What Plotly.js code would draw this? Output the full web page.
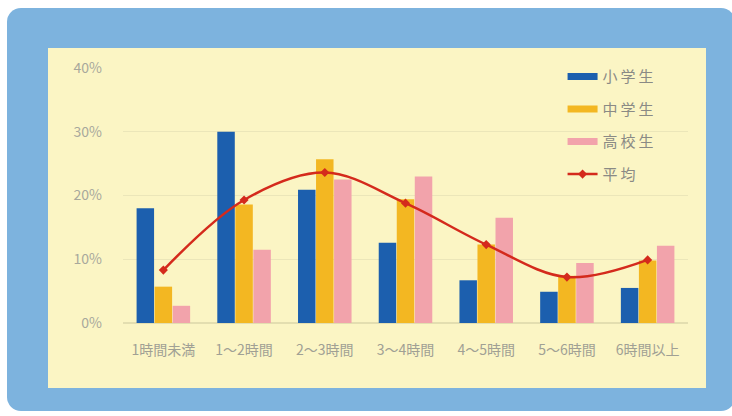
<!DOCTYPE html>
<html><head><meta charset="utf-8">
<script src="https://cdn.plot.ly/plotly-3.0.1.min.js"></script>
<style>
html,body{margin:0;padding:0;background:#ffffff;width:732px;height:416px;overflow:hidden;}
#frame{position:absolute;left:7px;top:8px;width:728px;height:403px;background:#7db3de;border-radius:14px;}
#chart{position:absolute;left:48px;top:48px;width:658px;height:340px;}
#chart .legendtext{letter-spacing:3px;}
</style></head>
<body>
<div id="frame"></div>
<div id="chart"></div>
<script>
const categories = ["1時間未満","1～2時間","2～3時間","3～4時間","4～5時間","5～6時間","6時間以上"];
const elementary = [18, 30, 20.9, 12.6, 6.7, 4.9, 5.5];
const juniorHigh = [5.7, 18.6, 25.7, 19.4, 12.3, 7.4, 9.8];
const highSchool = [2.7, 11.5, 22.5, 23.0, 16.5, 9.4, 12.1];
const average = [8.3, 19.3, 23.6, 18.8, 12.3, 7.2, 9.9];
const seriesNames = ["小学生","中学生","高校生","平均"];
const yTickVals = [0,10,20,30,40];
const yTickText = ["0%","10%","20%","30%","40%"];

const colors = ["#1c5fae","#f3b722","#f2a3ab","#d42a1c"];
const font = "'Noto Sans CJK JP', 'Noto Sans', sans-serif";

const traces = [];
[elementary, juniorHigh, highSchool].forEach((vals,i)=>{
  traces.push({type:"bar", x:categories, y:vals, name:seriesNames[i],
    marker:{color:colors[i]}, showlegend:false, hoverinfo:"skip"});
});
traces.push({type:"scatter", mode:"lines+markers", x:categories, y:average, name:seriesNames[3],
  line:{color:colors[3], width:2.5, shape:"spline", smoothing:1}, marker:{color:colors[3], size:7, symbol:"diamond"},
  showlegend:false});
// legend entries
[0,1,2].forEach(i=>{
  traces.push({type:"scatter", mode:"lines", x:[null], y:[null], name:seriesNames[i],
    line:{color:colors[i], width:7}, legendgroup:"g"+i});
});
traces.push({type:"scatter", mode:"lines+markers", x:[null], y:[null], name:seriesNames[3],
  line:{color:colors[3], width:2.5}, marker:{color:colors[3], size:7, symbol:"diamond"}, legendgroup:"g3"});

const layout = {
  width:658, height:340,
  margin:{l:75, r:18, t:20, b:65},
  paper_bgcolor:"#fbf5c4", plot_bgcolor:"#fbf5c4",
  barmode:"group", bargap:0.33, bargroupgap:0.03,
  font:{family:font, color:"#9a9a90", size:12},
  xaxis:{type:"category", tickfont:{size:14, color:"#a0a094"}, showgrid:false, zeroline:false, showline:false, ticks:"", ticklabelstandoff:17},
  yaxis:{range:[0,40], tickvals:yTickVals, ticktext:yTickText, tickfont:{size:14,color:"#a8a89c"},
    gridcolor:"#ebe6b9", gridwidth:1, zeroline:true, zerolinecolor:"#e3deb0", zerolinewidth:1.5, ticks:"", ticklabelstandoff:20},
  showlegend:true,
  legend:{x:0.778, y:1.03, xanchor:"left", yanchor:"top", bgcolor:"rgba(0,0,0,0)",
    font:{size:15, color:"#8a8a85"}, traceorder:"grouped", tracegroupgap:10, itemwidth:30}
};
Plotly.newPlot("chart", traces, layout, {staticPlot:true});
</script>
</body></html>
